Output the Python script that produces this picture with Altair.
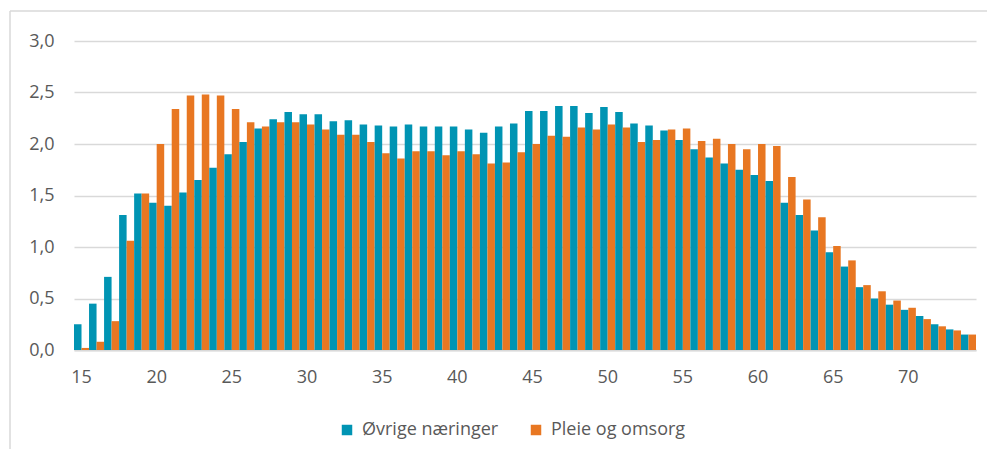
import altair as alt
import pandas as pd

ages = list(range(15, 75))
series_names = ["Øvrige næringer", "Pleie og omsorg"]
ovrige = [0.25, 0.45, 0.71, 1.31, 1.52, 1.43, 1.40, 1.53, 1.65, 1.77,
          1.90, 2.02, 2.15, 2.24, 2.31, 2.29, 2.29, 2.22, 2.23, 2.19,
          2.18, 2.17, 2.19, 2.17, 2.17, 2.17, 2.14, 2.11, 2.17, 2.20,
          2.32, 2.32, 2.37, 2.37, 2.30, 2.36, 2.31, 2.20, 2.18, 2.13,
          2.04, 1.95, 1.87, 1.81, 1.75, 1.70, 1.64, 1.43, 1.31, 1.16,
          0.95, 0.81, 0.61, 0.50, 0.44, 0.39, 0.33, 0.25, 0.20, 0.15]
pleie = [0.02, 0.08, 0.28, 1.06, 1.52, 2.00, 2.34, 2.47, 2.48, 2.47,
         2.34, 2.21, 2.17, 2.21, 2.21, 2.19, 2.14, 2.09, 2.09, 2.02,
         1.91, 1.86, 1.93, 1.93, 1.89, 1.93, 1.90, 1.81, 1.82, 1.92,
         2.00, 2.08, 2.07, 2.16, 2.14, 2.19, 2.16, 2.02, 2.04, 2.14,
         2.15, 2.03, 2.05, 2.00, 1.95, 2.00, 1.98, 1.68, 1.46, 1.29,
         1.01, 0.87, 0.63, 0.57, 0.48, 0.41, 0.30, 0.23, 0.19, 0.15]
x_tick_labels = [15, 20, 25, 30, 35, 40, 45, 50, 55, 60, 65, 70]
y_ticks = [0, 0.5, 1.0, 1.5, 2.0, 2.5, 3.0]
colors = ["#0094B3", "#E87722"]

rows = []
for a, v1, v2 in zip(ages, ovrige, pleie):
    rows.append({"age": a, "series": series_names[0], "value": v1})
    rows.append({"age": a, "series": series_names[1], "value": v2})
df = pd.DataFrame(rows)

bars = alt.Chart(df).mark_bar(strokeWidth=0).encode(
    x=alt.X("age:O",
            scale=alt.Scale(paddingInner=0, paddingOuter=0),
            axis=alt.Axis(values=x_tick_labels, labelAngle=0, ticks=False,
                          domainColor="#d9d9d9", domainWidth=2,
                          labelPadding=18, labelFontSize=18,
                          labelColor="#595959", title=None, grid=False)),
    xOffset=alt.XOffset("series:N", sort=series_names,
                        scale=alt.Scale(paddingInner=0, paddingOuter=0)),
    y=alt.Y("value:Q",
            scale=alt.Scale(domain=[0, 3], nice=False),
            axis=alt.Axis(values=y_ticks, domain=False, ticks=False,
                          grid=True, gridColor="#d9d9d9", gridWidth=1.5,
                          labelExpr="replace(format(datum.value, '.1f'), '.', ',')",
                          labelPadding=20, labelFontSize=18,
                          labelColor="#595959", title=None)),
    color=alt.Color("series:N", sort=series_names,
                    scale=alt.Scale(domain=series_names, range=colors),
                    legend=alt.Legend(orient="none", legendX=264, legendY=380,
                                      direction="horizontal", columns=2,
                                      title=None, symbolType="square",
                                      symbolSize=110, symbolStrokeWidth=0,
                                      labelFontSize=18, labelColor="#595959",
                                      columnPadding=28, labelOffset=6)),
)

frame_top = alt.Chart(alt.Data(values=[{}])).mark_rule(
    stroke="#d9d9d9", strokeWidth=1.5
).encode(x=alt.value(-64), x2=alt.value(1000), y=alt.value(-30))

frame_left = alt.Chart(alt.Data(values=[{}])).mark_rule(
    stroke="#d9d9d9", strokeWidth=1.5
).encode(x=alt.value(-64), y=alt.value(-30), y2=alt.value(500))

chart = alt.layer(frame_top, frame_left, bars).properties(
    width=902, height=309,
    autosize=alt.AutoSizeParams(type="none"),
    padding={"left": 66, "top": 33, "right": 11, "bottom": 99},
).configure(font="Open Sans").configure_view(stroke=None)

chart.save("out.html", embed_options={"renderer": "svg", "actions": False})
